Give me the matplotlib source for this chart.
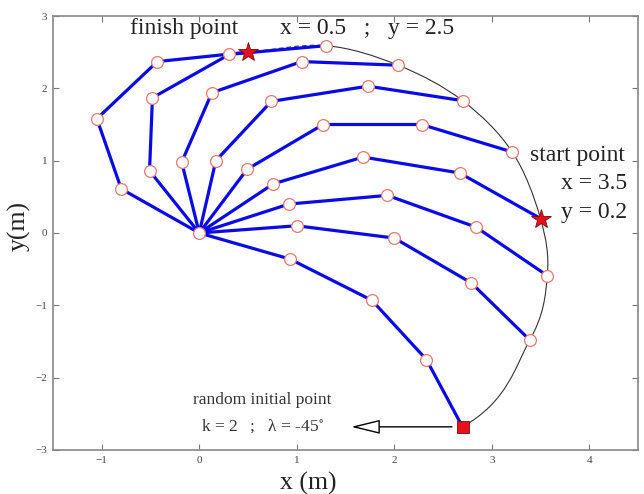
import numpy as np
import matplotlib
matplotlib.use("Agg")
import matplotlib.pyplot as plt
from matplotlib.path import Path
from matplotlib.patches import PathPatch

plt.rcParams['font.family'] = ['Liberation Serif', 'DejaVu Serif']
plt.rcParams['mathtext.fontset'] = 'stix'

# arm configurations: base at origin, three joints, then the tip
joint1_x = [-0.80, -0.51, -0.18, 0.17, 0.49, 0.76, 0.92, 1.00, 0.93]
joint1_y = [0.61, 0.86, 0.98, 1.00, 0.88, 0.68, 0.40, 0.10, -0.36]
joint2_x = [-1.05, -0.48, 0.13, 0.74, 1.27, 1.68, 1.93, 2.00, 1.77]
joint2_y = [1.58, 1.87, 1.94, 1.82, 1.50, 1.05, 0.52, -0.07, -0.93]
joint3_x = [-0.43, 0.31, 1.05, 1.73, 2.28, 2.67, 2.84, 2.79, 2.33]
joint3_y = [2.37, 2.47, 2.37, 2.03, 1.50, 0.83, 0.08, -0.69, -1.75]
tip_x = [0.5, 1.30, 2.04, 2.70, 3.21, 3.5, 3.57, 3.39, 2.70]
tip_y = [2.5, 2.59, 2.32, 1.83, 1.12, 0.2, -0.59, -1.48, -2.68]

finish = (0.5, 2.5)
start = (3.5, 0.2)
initial = (2.70, -2.68)
finish_idx, start_idx, initial_idx = 0, 5, 8

BLUE = '#0a0ae6'
RING = '#e6786e'


def smooth_path(xs, ys, end_tangent=None):
    '''Catmull-Rom curve through the points, as cubic bezier segments.'''
    pts = np.column_stack([xs, ys])
    n = len(pts)
    tang = []
    for i in range(n):
        a = pts[max(i - 1, 0)]
        b = pts[min(i + 1, n - 1)]
        tang.append((b - a) / 2.0 if 0 < i < n - 1 else (b - a))
    if end_tangent is not None:
        tang[-1] = np.asarray(end_tangent, dtype=float)
    verts = [pts[0]]
    codes = [Path.MOVETO]
    for i in range(n - 1):
        verts += [pts[i] + tang[i] / 3.0, pts[i + 1] - tang[i + 1] / 3.0, pts[i + 1]]
        codes += [Path.CURVE4] * 3
    return Path(verts, codes)


fig = plt.figure(figsize=(6.44, 4.94), dpi=100)
ax = fig.add_axes([0.0823, 0.0891, 0.9084, 0.8785])

# end-effector trajectory: dashed near the finish, solid after
traj = smooth_path(tip_x, tip_y, end_tangent=(-1.4, -1.06))
verts, codes = traj.vertices, traj.codes
ax.add_patch(PathPatch(Path(verts[:4], codes[:4]), fc='none', ec='#333333',
                       lw=0.8, ls=(0, (4, 3)), zorder=2))
ax.add_patch(PathPatch(Path(verts[3:], [Path.MOVETO] + list(codes[4:])),
                       fc='none', ec='#333333', lw=0.8, zorder=2))

for i in range(len(tip_x)):
    xs = [0, joint1_x[i], joint2_x[i], joint3_x[i], tip_x[i]]
    ys = [0, joint1_y[i], joint2_y[i], joint3_y[i], tip_y[i]]
    ax.plot(xs, ys, color=BLUE, lw=2.3, zorder=3)

ring = dict(ls='none', marker='o', ms=8.5, mfc='white', mec=RING, mew=0.9, zorder=4)
ax.plot(joint1_x, joint1_y, **ring)
ax.plot(joint2_x, joint2_y, **ring)
ax.plot(joint3_x, joint3_y, **ring)
plain_tips = [i for i in range(len(tip_x)) if i not in (finish_idx, start_idx, initial_idx)]
ax.plot([tip_x[i] for i in plain_tips], [tip_y[i] for i in plain_tips], **ring)
ax.plot([0], [0], **ring)

star = dict(ls='none', marker='*', ms=15, mfc='#e8101a', mec='#7a0a0a', mew=0.6, zorder=5)
ax.plot([finish[0]], [finish[1]], **star)
ax.plot([start[0]], [start[1]], **star)
ax.plot([initial[0]], [initial[1]], ls='none', marker='s', ms=8.5,
        mfc='#e8101a', mec='#7a0a0a', mew=0.6, zorder=5)

# annotations
big = dict(fontsize=17, color='#222222', ha='center', va='center')
ax.text(-0.154, 2.834, 'finish point', **big)
ax.text(1.72, 2.834, 'x = %g   ;   y = %g' % finish, **big)
ax.text(3.88, 1.065, 'start point', **big)
ax.text(4.39, 0.69, 'x = %g' % start[0], fontsize=17, color='#222222', ha='right', va='center')
ax.text(4.39, 0.29, 'y = %g' % start[1], fontsize=17, color='#222222', ha='right', va='center')
ax.text(0.646, -2.309, 'random initial point', fontsize=12.5, color='#333333',
        ha='center', va='center')
ax.text(0.646, -2.668, 'k = 2   ;   λ = -45$^{\\circ}$', fontsize=12.5, color='#333333',
        ha='center', va='center')
ax.annotate('', xy=(1.53, initial[1]), xytext=(2.62, initial[1]),
            arrowprops=dict(arrowstyle='-|>,head_length=0.9,head_width=0.22',
                            mutation_scale=20, fc='white', ec='black', lw=1.0),
            zorder=5)

ax.set_xlim(-1.5, 4.5)
ax.set_ylim(-3, 3)
ax.set_xticks([-1, 0, 1, 2, 3, 4])
ax.set_yticks([-3, -2, -1, 0, 1, 2, 3])
ax.tick_params(direction='in', top=True, right=True, length=4, width=0.8,
               color='#777777', labelsize=8, labelcolor='#444444', pad=4)
for s in ax.spines.values():
    s.set_color('#888888')
    s.set_linewidth(1.2)

ax.set_xlabel('x (m)', fontsize=18.5, color='#222222', va='center')
ax.xaxis.set_label_coords(0.436, -0.078)
ax.set_ylabel('y(m)', fontsize=18.5, color='#222222', va='center')
ax.yaxis.set_label_coords(-0.058, 0.516)

fig.savefig('out.png', dpi=100)
